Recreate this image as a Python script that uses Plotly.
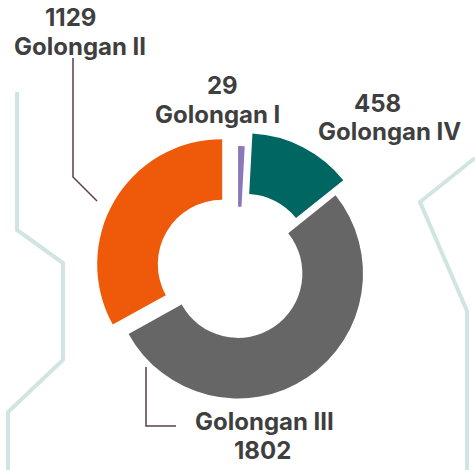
import plotly.graph_objects as go

# ---- data ----
categories = ["Golongan I", "Golongan II", "Golongan III", "Golongan IV"]
values = [29, 1129, 1802, 458]
colors = ["#8a78b8", "#ef5a0a", "#666666", "#006661"]
pulls = [0.02, 0.147, 0.0, 0.136]

W, H = 475, 470


def px(x):
    return x / W


def py(y):
    return 1 - y / H


fig = go.Figure()

# pie geometry (window pixels)
cx, cy, R = 238, 273.5, 125
half = R * (1 + max(pulls))

fig.add_trace(go.Pie(
    labels=categories,
    values=values,
    hole=0.515,
    sort=False,
    direction="counterclockwise",
    rotation=0,
    pull=pulls,
    marker=dict(colors=colors, line=dict(width=0)),
    textinfo="none",
    hoverinfo="label+value",
    showlegend=False,
    domain=dict(x=[px(cx - half), px(cx + half)],
                y=[py(cy + half), py(cy - half)]),
))

font_main = dict(family="Inter, Lato, sans-serif", size=24,
                 color="#3f3f3f", weight="bold")

# label positions: (value line center, name line center)
label_pos = {
    "Golongan I": ((222, 86), (217, 115)),
    "Golongan II": ((70, 17), (80, 46)),
    "Golongan III": ((262, 450), (264, 421)),
    "Golongan IV": ((377, 103), (389, 132)),
}

annotations = []
for cat, val in zip(categories, values):
    (vx, vy), (nx, ny) = label_pos[cat]
    annotations.append(dict(x=px(vx), y=py(vy), xref="paper", yref="paper",
                            text=f"{val}", showarrow=False,
                            xanchor="center", yanchor="middle", font=font_main))
    annotations.append(dict(x=px(nx), y=py(ny), xref="paper", yref="paper",
                            text=f"{cat}", showarrow=False,
                            xanchor="center", yanchor="middle", font=font_main))

shapes = []
wm = "#d0e5e2"


def polyline(points, color, width):
    path = "M " + " L ".join(f"{px(x)},{py(y)}" for x, y in points)
    return dict(type="path", path=path, xref="paper", yref="paper",
                line=dict(color=color, width=width), layer="below")


shapes.append(polyline([(475, 158), (420, 202), (467, 311), (467, 475)], wm, 4))
shapes.append(polyline([(17, 92), (17, 230), (63, 263), (63, 360), (8, 412), (8, 475)], wm, 4))

leader = "#5a3f47"
shapes.append(polyline([(73, 58), (73, 177), (97, 201)], leader, 1.5))
shapes.append(polyline([(146, 367), (146, 426), (176, 426)], leader, 1.5))

fig.update_layout(
    width=W, height=H,
    margin=dict(l=0, r=0, t=0, b=0),
    paper_bgcolor="white",
    plot_bgcolor="white",
    annotations=annotations,
    shapes=shapes,
)

fig.write_html("out.html",
               config={"displayModeBar": False},
               post_script="document.body.style.margin='0';document.body.style.overflow='hidden';")
